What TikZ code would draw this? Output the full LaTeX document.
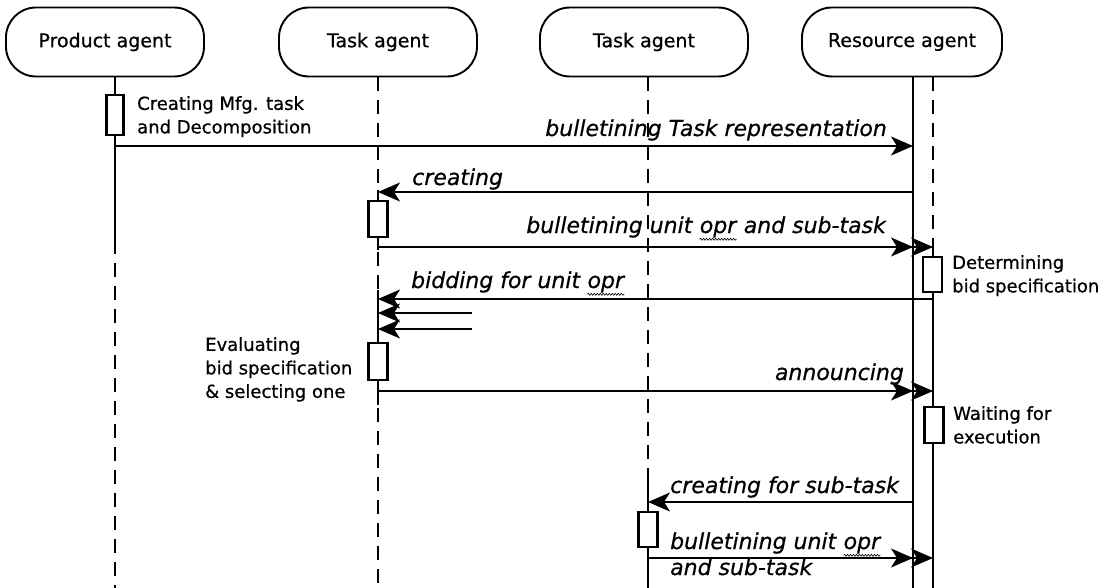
\documentclass[tikz,border=0pt]{standalone}
\usepackage{fontspec}
\setmainfont{DejaVu Sans}[UprightFeatures={FakeBold=0.7}, ItalicFeatures={FakeBold=0.7}]
\usetikzlibrary{arrows.meta,decorations.pathmorphing}
\tikzset{
  hdr/.style={draw, line width=1.9pt, rounded corners=30pt, minimum width=198pt, minimum height=69pt, inner sep=0pt, font=\fontsize{19}{21}\selectfont},
  act/.style={draw, line width=2.2pt, fill=white, minimum width=19pt, inner sep=0pt},
  solidlife/.style={line width=2pt},
  dashlife/.style={line width=2.2pt, dash pattern=on 14pt off 9pt},
  msg/.style={line width=1.5pt, -{Stealth[length=22pt,width=19pt,inset=6pt]}},
  lbl/.style={inner sep=0pt, font=\fontsize{22}{24}\selectfont\itshape},
  note/.style={inner sep=0pt, align=left, font=\fontsize{18}{23.5}\selectfont},
}
\newcommand{\wavyword}[1]{\tikz[baseline=(ww.base)]{\node[inner sep=0pt] (ww) {#1};\draw[line width=0.6pt, decorate, decoration={snake, amplitude=1pt, segment length=3pt}] ([yshift=-1.5pt]ww.south west) -- ([yshift=-1.5pt]ww.south east);}}
\begin{document}
\begin{tikzpicture}[x=1pt,y=-1pt]
\useasboundingbox (0,0) rectangle (1107,588);
% headers
\node[hdr] (P) at (105,42) {Product agent};
\node[hdr] (T1) at (378,42) {Task agent};
\node[hdr, minimum width=208pt] (T2) at (644,42) {Task agent};
\node[hdr, minimum width=200pt] (R) at (902,42) {Resource agent};
% lifeline coordinates
\def\px{115}\def\ta{378}\def\tb{648}\def\ra{913}\def\rb{933}
% Product lifeline
\draw[solidlife] (\px,77) -- (\px,240);
\draw[dashlife] (\px,240) -- (\px,588);
% Task1 lifeline
\draw[dashlife] (\ta,77) -- (\ta,190);
\draw[solidlife] (\ta,190) -- (\ta,250);
\draw[dashlife] (\ta,252) -- (\ta,290);
\draw[solidlife] (\ta,290) -- (\ta,405);
\draw[dashlife] (\ta,408) -- (\ta,588);
% Task2 lifeline
\draw[dashlife] (\tb,77) -- (\tb,470);
\draw[solidlife] (\tb,470) -- (\tb,588);
% Resource lifelines
\draw[solidlife] (\ra,77) -- (\ra,588);
\draw[dashlife] (\rb,77) -- (\rb,245);
\draw[solidlife] (\rb,245) -- (\rb,588);
% activation boxes
\node[act, minimum width=17pt, minimum height=40pt] (aP) at (\px,115) {};
\node[act, minimum height=36pt] (aT1) at (\ta,219) {};
\node[act, minimum height=37pt] (aT1b) at (\ta,361.5) {};
\node[act, minimum height=35pt] (aR1) at (932.5,274.5) {};
\node[act, minimum height=36pt] (aR2) at (934,425) {};
\node[act, minimum height=35pt] (aT2) at (\tb,529.5) {};
% message end points
\coordinate (m1s) at (\px,146); \coordinate (m1e) at (\ra,146);
\coordinate (m2s) at (\ra,192); \coordinate (m2e) at (\ta,192);
\coordinate (m3s) at (\ta,247); \coordinate (m3a) at (\ra,247); \coordinate (m3b) at (\rb,247);
\coordinate (m4s) at (\rb,299); \coordinate (m4e) at (\ta,299);
\coordinate (m5s) at (472,313); \coordinate (m5e) at (\ta,313);
\coordinate (m6s) at (472,329); \coordinate (m6e) at (\ta,329);
\coordinate (m7s) at (\ta,391); \coordinate (m7a) at (\ra,391); \coordinate (m7b) at (\rb,391);
\coordinate (m8s) at (\ra,502); \coordinate (m8e) at (\tb,502);
\coordinate (m9s) at (\tb,558); \coordinate (m9a) at (\ra,558); \coordinate (m9b) at (\rb,558);
% messages
\draw[msg] (m1s) -- (m1e);
\draw[msg] (m2s) -- (m2e);
\draw[msg] (m3s) -- (m3b);
\draw[msg] (m3s) -- (m3a);
\draw[msg] (m4s) -- (m4e);
\draw[msg] (m5s) -- (m5e);
\draw[msg] (m6s) -- (m6e);
\draw[msg] (m7s) -- (m7b);
\draw[msg] (m7s) -- (m7a);
\draw[msg] (m8s) -- (m8e);
\draw[msg] (m9s) -- (m9b);
\draw[msg] (m9s) -- (m9a);
% message labels
\node[lbl, anchor=base east] (l1) at (887,136) {bulletining Task representation};
\node[lbl, anchor=base west] (l2) at (412,185) {creating};
\node[lbl, anchor=base east] (l3) at (886,233) {bulletining unit \wavyword{opr} and sub-task};
\node[lbl, anchor=base west] (l4) at (411,288) {bidding for unit \wavyword{opr}};
\node[lbl, anchor=base east] (l5) at (904,380) {announcing};
\node[lbl, anchor=base west] (l6) at (670,493) {creating for sub-task};
\node[lbl, anchor=base west] (l7) at (670,549) {bulletining unit \wavyword{opr}};
\node[lbl, anchor=base west] (l8) at (670,575) {and sub-task};
% notes
\node[note, anchor=north west] (n1) at (137,96) {Creating Mfg. task\\and Decomposition};
\node[note, anchor=north west] (n2) at (952,255) {Determining\\bid specification};
\node[note, anchor=north west] (n3) at (205,337) {Evaluating\\bid specification\\\& selecting one};
\node[note, anchor=north west] (n4) at (953,406) {Waiting for\\execution};
\end{tikzpicture}
\end{document}
